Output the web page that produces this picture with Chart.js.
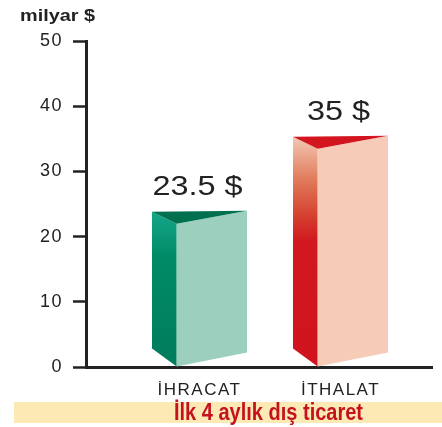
<!DOCTYPE html>
<html>
<head>
<meta charset="utf-8">
<script src="https://cdn.jsdelivr.net/npm/chart.js@4/dist/chart.umd.min.js"></script>
<style>
html,body{margin:0;padding:0;background:#fff;}
canvas{display:block;}
</style>
</head>
<body>
<canvas id="c" width="442" height="427"></canvas>
<script>
// ---- data ----
const categories = ['İHRACAT', 'İTHALAT'];
const values = [23.5, 35];
const valueLabels = values.map(v => v + ' $');
const yTicks = [0, 10, 20, 30, 40, 50];
const unitLabel = 'milyar $';
const footerTitle = 'İlk 4 aylık dış ticaret';

// ---- styles ----
const palettes = [
  { top: '#00704f', right: '#9dcfbf',
    left: [[0, '#14a688'], [0.3, '#008a66'], [1, '#007c5b']] },
  { top: '#d3151f', right: '#f6ccb9',
    left: [[0, '#f3c8b4'], [0.18, '#e17d5d'], [0.36, '#d43a2c'], [0.46, '#d1171f'], [1, '#cf141d']] }
];
const FONT = '"Liberation Sans", Arial, Helvetica, sans-serif';
const INK = '#222222';
const SPACING = '1.5px';

function poly(ctx, pts, fill) {
  ctx.beginPath();
  ctx.moveTo(pts[0][0], pts[0][1]);
  for (let k = 1; k < pts.length; k++) ctx.lineTo(pts[k][0], pts[k][1]);
  ctx.closePath();
  ctx.fillStyle = fill;
  ctx.fill();
}

function stretchedText(ctx, text, x, y, font, color, sx, align) {
  ctx.save();
  ctx.letterSpacing = '0px';
  ctx.font = font;
  ctx.fillStyle = color;
  ctx.textAlign = align || 'center';
  ctx.textBaseline = 'alphabetic';
  ctx.translate(x, y);
  ctx.scale(sx, 1);
  ctx.fillText(text, 0, 0);
  ctx.restore();
}

function fitWidth(ctx, text, font, target) {
  ctx.save();
  ctx.letterSpacing = '0px';
  ctx.font = font;
  const w = ctx.measureText(text).width;
  ctx.restore();
  return target / w;
}

const prismPlugin = {
  id: 'prism',
  beforeUpdate(chart) { chart.ctx.letterSpacing = SPACING; },
  beforeDraw(chart) {
    const ctx = chart.ctx;
    ctx.save();
    ctx.fillStyle = '#ffffff';
    ctx.fillRect(0, 0, chart.width, chart.height);
    ctx.restore();
    ctx.letterSpacing = SPACING;
  },
  afterDatasetsDraw(chart) {
    const ctx = chart.ctx;
    const meta = chart.getDatasetMeta(0);
    meta.data.forEach((bar, i) => {
      const { x, y, base, width } = bar.getProps(['x', 'y', 'base', 'width'], true);
      const L = x - width / 2, R = x + width / 2, F = L + width * 0.26;
      const p = palettes[i];
      const bl = [L, y - 2], br = [R, y - 3], ft = [F, y + 10];
      const blb = [L, base - 18], brb = [R, base - 14], fb = [F, base];
      const g = ctx.createLinearGradient(0, bl[1], 0, base);
      p.left.forEach(([o, c]) => g.addColorStop(o, c));
      ctx.save();
      poly(ctx, [bl, ft, fb, blb], g);
      poly(ctx, [ft, br, brb, fb], p.right);
      poly(ctx, [bl, br, ft], p.top);
      ctx.restore();
      stretchedText(ctx, valueLabels[i], x - 2, y - 19, '27px ' + FONT, INK, 1.2, 'center');
    });
  },
  afterDraw(chart) {
    const ctx = chart.ctx;
    // unit label
    const uf = 'bold 17px ' + FONT;
    stretchedText(ctx, unitLabel, 20, 21, uf, INK, fitWidth(ctx, unitLabel, uf, 75), 'left');
    // footer band
    ctx.save();
    ctx.fillStyle = '#fde9b4';
    ctx.fillRect(14, 402, 428, 21);
    ctx.restore();
    const tf = 'bold 23px "Liberation Sans Narrow", ' + FONT;
    stretchedText(ctx, footerTitle, 268.5, 419.5, tf, '#c5121f', fitWidth(ctx, footerTitle, tf, 189), 'center');
  }
};

new Chart(document.getElementById('c'), {
  type: 'bar',
  data: {
    datasets: [{
      data: values.map((v, i) => ({ x: i, y: v })),
      backgroundColor: 'rgba(0,0,0,0)',
      borderWidth: 0,
      barThickness: 95
    }]
  },
  options: {
    responsive: false,
    animation: false,
    events: [],
    layout: { padding: { left: 0, right: 10, top: 41, bottom: 30 }, autoPadding: false },
    plugins: { legend: { display: false }, tooltip: { enabled: false } },
    scales: {
      x: {
        type: 'linear', min: -0.805, max: 1.649, offset: false,
        grid: { display: false, drawTicks: false },
        border: { display: true, color: INK, width: 3 },
        afterBuildTicks: s => { s.ticks = categories.map((c, i) => ({ value: i })); },
        afterFit: s => { s.height = 30; },
        ticks: {
          autoSkip: false, maxRotation: 0, padding: 13, color: INK,
          font: { family: FONT, size: 17 },
          callback: v => categories[v]
        }
      },
      y: {
        min: 0, max: 50,
        afterBuildTicks: s => { s.ticks = yTicks.map(v => ({ value: v })); },
        afterFit: s => { s.width = 86; },
        grid: { drawOnChartArea: false, drawTicks: true, tickLength: 13, tickWidth: 2.5, tickColor: INK, color: INK },
        border: { display: true, color: INK, width: 3 },
        ticks: { padding: 10, color: INK, font: { family: FONT, size: 18 } }
      }
    }
  },
  plugins: [prismPlugin]
});
</script>
</body>
</html>
